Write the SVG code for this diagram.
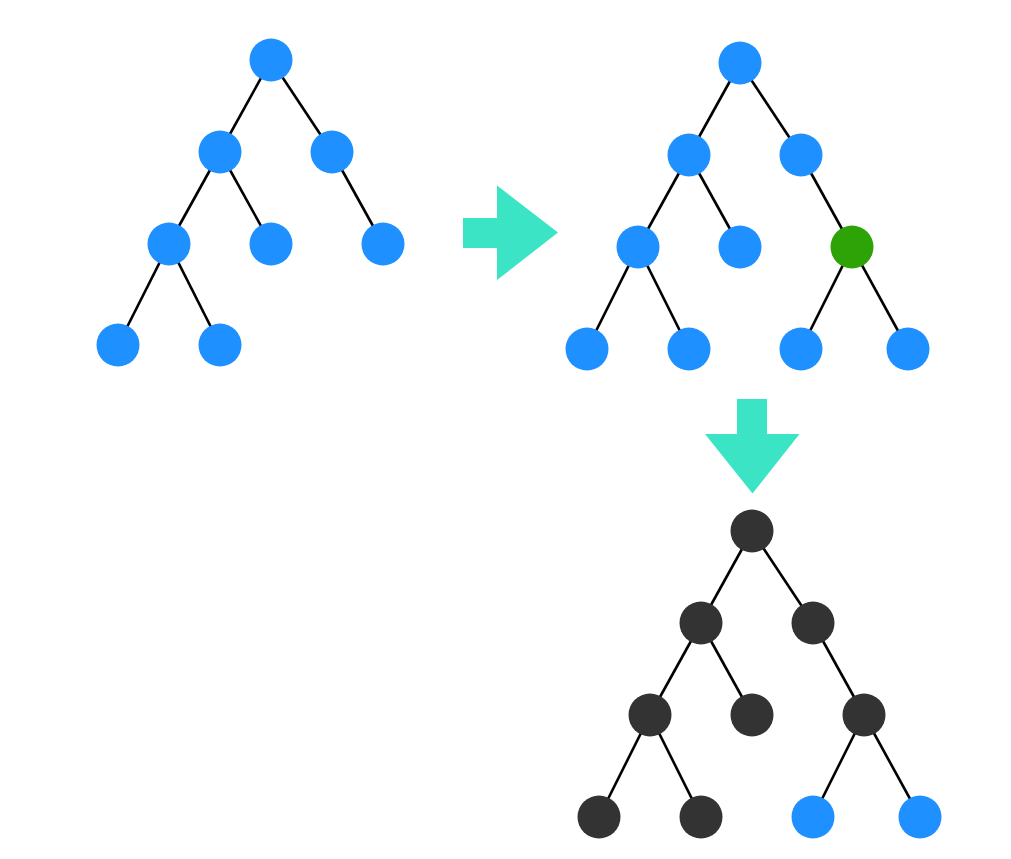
<svg xmlns="http://www.w3.org/2000/svg" width="1011" height="859" viewBox="0 0 1011 859">
  <style>
    .edge { stroke: #000000; stroke-width: 2.6; fill: none; }
    .n { r: 21.5px; }
    .blue { fill: #1e90ff; }
    .green { fill: #2ea307; }
    .dark { fill: #333333; }
    .arrow { fill: #3be4c4; }
  </style>
  <rect width="1011" height="859" fill="#ffffff"/>

  <!-- edges of all three trees -->
  <g id="connectors">
    <!-- tree 1 -->
    <line class="edge" x1="271" y1="60" x2="220" y2="152"/>
    <line class="edge" x1="271" y1="60" x2="332" y2="152"/>
    <line class="edge" x1="220" y1="152" x2="169" y2="244"/>
    <line class="edge" x1="220" y1="152" x2="271" y2="244"/>
    <line class="edge" x1="332" y1="152" x2="383" y2="244"/>
    <line class="edge" x1="169" y1="244" x2="118" y2="345"/>
    <line class="edge" x1="169" y1="244" x2="220" y2="345"/>
    <!-- tree 2 -->
    <line class="edge" x1="740" y1="63" x2="689" y2="155"/>
    <line class="edge" x1="740" y1="63" x2="801" y2="155"/>
    <line class="edge" x1="689" y1="155" x2="638" y2="247"/>
    <line class="edge" x1="689" y1="155" x2="740" y2="247"/>
    <line class="edge" x1="801" y1="155" x2="852" y2="247"/>
    <line class="edge" x1="638" y1="247" x2="587" y2="349"/>
    <line class="edge" x1="638" y1="247" x2="689" y2="349"/>
    <line class="edge" x1="852" y1="247" x2="801" y2="349"/>
    <line class="edge" x1="852" y1="247" x2="908" y2="349"/>
    <!-- tree 3 -->
    <line class="edge" x1="752" y1="531" x2="701" y2="623"/>
    <line class="edge" x1="752" y1="531" x2="813" y2="623"/>
    <line class="edge" x1="701" y1="623" x2="650" y2="715"/>
    <line class="edge" x1="701" y1="623" x2="752" y2="715"/>
    <line class="edge" x1="813" y1="623" x2="864" y2="715"/>
    <line class="edge" x1="650" y1="715" x2="599" y2="817"/>
    <line class="edge" x1="650" y1="715" x2="701" y2="817"/>
    <line class="edge" x1="864" y1="715" x2="813" y2="817"/>
    <line class="edge" x1="864" y1="715" x2="920" y2="817"/>
  </g>

  <!-- transition arrows -->
  <g id="arrow-right">
    <polygon class="arrow" points="463,218 497,218 497,185.5 558,232.5 497,280 497,248 463,248"/>
  </g>
  <g id="arrow-down">
    <polygon class="arrow" points="737,399 767,399 767,434 799.5,434 752.5,493.5 705,434 737,434"/>
  </g>

  <!-- tree 1 -->
  <g id="t1-root"><circle class="blue" cx="271" cy="60" r="21.5"/></g>
  <g id="t1-a"><circle class="blue" cx="220" cy="152" r="21.5"/></g>
  <g id="t1-b"><circle class="blue" cx="332" cy="152" r="21.5"/></g>
  <g id="t1-c"><circle class="blue" cx="169" cy="244" r="21.5"/></g>
  <g id="t1-d"><circle class="blue" cx="271" cy="244" r="21.5"/></g>
  <g id="t1-e"><circle class="blue" cx="383" cy="244" r="21.5"/></g>
  <g id="t1-f"><circle class="blue" cx="118" cy="345" r="21.5"/></g>
  <g id="t1-g"><circle class="blue" cx="220" cy="345" r="21.5"/></g>

  <!-- tree 2 -->
  <g id="t2-root"><circle class="blue" cx="740" cy="63" r="21.5"/></g>
  <g id="t2-a"><circle class="blue" cx="689" cy="155" r="21.5"/></g>
  <g id="t2-b"><circle class="blue" cx="801" cy="155" r="21.5"/></g>
  <g id="t2-c"><circle class="blue" cx="638" cy="247" r="21.5"/></g>
  <g id="t2-d"><circle class="blue" cx="740" cy="247" r="21.5"/></g>
  <g id="t2-e"><circle class="green" cx="852" cy="247" r="21.5"/></g>
  <g id="t2-f"><circle class="blue" cx="587" cy="349" r="21.5"/></g>
  <g id="t2-g"><circle class="blue" cx="689" cy="349" r="21.5"/></g>
  <g id="t2-h"><circle class="blue" cx="801" cy="349" r="21.5"/></g>
  <g id="t2-i"><circle class="blue" cx="908" cy="349" r="21.5"/></g>

  <!-- tree 3 -->
  <g id="t3-root"><circle class="dark" cx="752" cy="531" r="21.5"/></g>
  <g id="t3-a"><circle class="dark" cx="701" cy="623" r="21.5"/></g>
  <g id="t3-b"><circle class="dark" cx="813" cy="623" r="21.5"/></g>
  <g id="t3-c"><circle class="dark" cx="650" cy="715" r="21.5"/></g>
  <g id="t3-d"><circle class="dark" cx="752" cy="715" r="21.5"/></g>
  <g id="t3-e"><circle class="dark" cx="864" cy="715" r="21.5"/></g>
  <g id="t3-f"><circle class="dark" cx="599" cy="817" r="21.5"/></g>
  <g id="t3-g"><circle class="dark" cx="701" cy="817" r="21.5"/></g>
  <g id="t3-h"><circle class="blue" cx="813" cy="817" r="21.5"/></g>
  <g id="t3-i"><circle class="blue" cx="920" cy="817" r="21.5"/></g>
</svg>
